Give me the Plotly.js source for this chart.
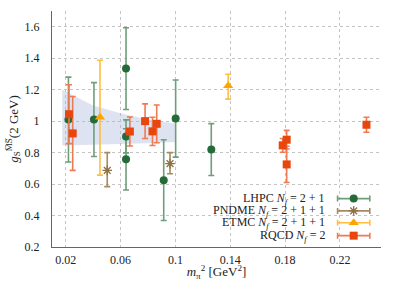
<!DOCTYPE html>
<html>
<head>
<meta charset="utf-8">
<script src="https://cdn.plot.ly/plotly-3.0.1.min.js"></script>
<style>html,body{margin:0;padding:0;background:#fff}#chart{width:398px;height:281px}</style>
</head>
<body>
<div id="chart"></div>
<script>
// ---- data ----
const lhpcX = [0.022, 0.0406, 0.064, 0.064, 0.064, 0.0915, 0.1002, 0.1262];
const lhpcY = [1.01, 1.01, 1.334, 0.903, 0.757, 0.625, 1.016, 0.819];
const lhpcErr = [0.27, 0.235, 0.26, 0.105, 0.195, 0.257, 0.245, 0.165];

const pndmeX = [0.0503, 0.0961];
const pndmeY = [0.687, 0.73];
const pndmeErrPlus = [0.113, 0.07];
const pndmeErrMinus = [0.103, 0.064];

const etmcX = [0.045, 0.1385];
const etmcY = [1.025, 1.225];
const etmcErrPlus = [0.362, 0.073];
const etmcErrMinus = [0.368, 0.085];

const rqcdX = [0.0224, 0.0251, 0.0668, 0.0779, 0.0833, 0.0864, 0.1783, 0.1812, 0.1812, 0.2394];
const rqcdY = [1.044, 0.922, 0.934, 1.0, 0.935, 0.983, 0.846, 0.882, 0.725, 0.977];
const rqcdErr = [0.187, 0.235, 0.092, 0.11, 0.09, 0.12, 0.044, 0.059, 0.115, 0.048];

const bandX = [0.0175, 0.04, 0.06, 0.08, 0.1];
const bandUpper = [1.2, 1.10, 1.05, 1.01, 0.985];
const bandLower = [0.845, 0.85, 0.855, 0.86, 0.868];

const xTickVals = [0.02, 0.06, 0.1, 0.14, 0.18, 0.22];
const xTickText = ['0.02', '0.06', '0.1', '0.14', '0.18', '0.22'];
const yTickVals = [0.2, 0.4, 0.6, 0.8, 1.0, 1.2, 1.4, 1.6];
const yTickText = ['0.2', '0.4', '0.6', '0.8', '1', '1.2', '1.4', '1.6'];

const legendNames = ['LHPC <i>N</i><sub><i>f</i></sub> = 2 + 1',
                     'PNDME <i>N</i><sub><i>f</i></sub> = 2 + 1 + 1',
                     'ETMC <i>N</i><sub><i>f</i></sub> = 2 + 1 + 1',
                     'RQCD <i>N</i><sub><i>f</i></sub> = 2'];

// ---- styles ----
const FONT = 'Liberation Serif';
const styles = [
  {marker: '#246b38', bar: '#6e9f7b', symbol: 'circle', size: 8},
  {marker: '#8e7045', bar: '#a68b62', symbol: 'asterisk-open', size: 8},
  {marker: '#ffa500', bar: '#ffbd45', symbol: 'triangle-up', size: 9},
  {marker: '#e8460c', bar: '#ee7b52', symbol: 'square', size: 8}
];
const legendRowY = [0.205, 0.153, 0.103, 0.048];
const legendSymX = 0.917, legendHalf = 0.049, legendTextX = 0.836;

function series(x, y, plus, minus, s) {
  return {
    x: x, y: y, type: 'scatter', mode: 'markers', showlegend: false, cliponaxis: false,
    marker: {color: s.marker, symbol: s.symbol, size: s.size,
             line: {color: s.marker, width: s.symbol === 'asterisk-open' ? 1.3 : 0}},
    error_y: {type: 'data', symmetric: false, array: plus, arrayminus: minus,
              color: s.bar, thickness: 1.6, width: 3}
  };
}

const traces = [
  {
    x: bandX.concat(bandX.slice().reverse()),
    y: bandUpper.concat(bandLower.slice().reverse()),
    type: 'scatter', mode: 'lines', fill: 'toself',
    fillcolor: 'rgba(165,182,215,0.38)', line: {width: 0}, hoverinfo: 'skip', showlegend: false
  },
  series(lhpcX, lhpcY, lhpcErr, lhpcErr, styles[0]),
  series(pndmeX, pndmeY, pndmeErrPlus, pndmeErrMinus, styles[1]),
  series(etmcX, etmcY, etmcErrPlus, etmcErrMinus, styles[2]),
  series(rqcdX, rqcdY, rqcdErr, rqcdErr, styles[3])
];

// legend samples on a hidden overlay axis
const annotations = [];
styles.forEach((s, i) => {
  traces.push({
    x: [legendSymX], y: [legendRowY[i]], xaxis: 'x2', yaxis: 'y2',
    type: 'scatter', mode: 'markers', showlegend: false, cliponaxis: false, hoverinfo: 'skip',
    marker: {color: s.marker, symbol: s.symbol, size: s.size,
             line: {color: s.marker, width: s.symbol === 'asterisk-open' ? 1.3 : 0}},
    error_x: {type: 'constant', value: legendHalf, color: s.bar, thickness: 1.6, width: 3}
  });
  annotations.push({
    xref: 'paper', yref: 'paper', x: legendTextX, y: legendRowY[i],
    xanchor: 'right', yanchor: 'middle', showarrow: false,
    text: legendNames[i], font: {family: FONT, size: 12, color: '#222'}
  });
});

const layout = {
  width: 398, height: 281,
  margin: {l: 52, r: 17, t: 11, b: 34},
  paper_bgcolor: '#fff', plot_bgcolor: '#fff',
  font: {family: FONT, size: 12, color: '#222'},
  showlegend: false,
  xaxis: {
    range: [0.01, 0.25], tickvals: xTickVals, ticktext: xTickText,
    showgrid: true, gridcolor: '#c4c4c4', griddash: 'dot', gridwidth: 1,
    zeroline: false, showline: true, linecolor: '#666', linewidth: 1, ticks: '',
    ticklabelstandoff: 2,
    tickfont: {family: FONT, size: 12, color: '#222'},
    title: {text: '<i>m</i><sub>π</sub><sup>2</sup> [GeV<sup>2</sup>]', font: {family: FONT, size: 13, color: '#222'}, standoff: 4}
  },
  yaxis: {
    range: [0.2, 1.7], tickvals: yTickVals, ticktext: yTickText,
    showgrid: true, gridcolor: '#c4c4c4', griddash: 'dot', gridwidth: 1,
    zeroline: false, showline: true, linecolor: '#666', linewidth: 1, ticks: '',
    ticklabelstandoff: 9,
    tickfont: {family: FONT, size: 12, color: '#222'},
    title: {text: '<i>g</i><sub>S</sub><sup>M̅S̅</sup>(2 GeV)', font: {family: FONT, size: 13, color: '#222'}, standoff: 3}
  },
  xaxis2: {domain: [0, 1], range: [0, 1], overlaying: 'x', anchor: 'y2', visible: false, fixedrange: true},
  yaxis2: {range: [0, 1], overlaying: 'y', anchor: 'x2', visible: false, fixedrange: true},
  annotations: annotations
};

Plotly.newPlot('chart', traces, layout, {staticPlot: true, displayModeBar: false});
</script>
</body>
</html>
